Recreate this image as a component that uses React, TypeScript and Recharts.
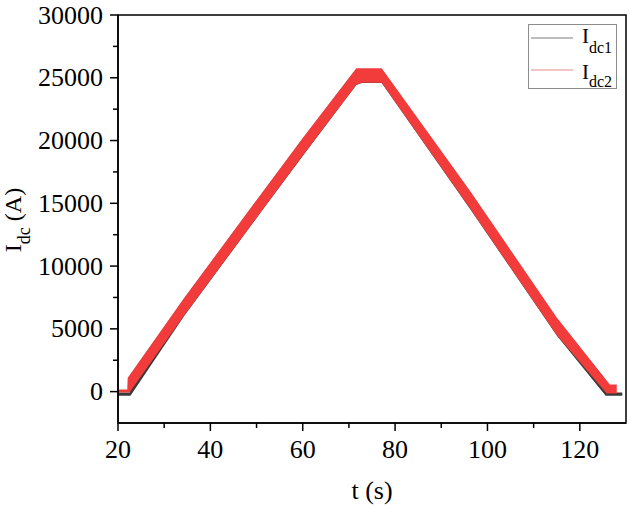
import React from 'react';
import { ComposedChart, Area, XAxis, YAxis, Legend, ReferenceArea } from 'recharts';

// Idc1 (black) envelope
const time1 = [20, 22.6, 22.7, 34.4, 51.0, 60.0, 71.6, 72.8, 77.1, 96.2, 115.0, 125.6, 126.0, 129.2];
const idc1Low = [-330, -330, -330, 6070, 14320, 18770, 24430, 24590, 24590, 14570, 4470, -330, -330, -330];
const idc1High = [-80, -80, 1350, 7450, 15700, 20150, 25700, 25700, 25700, 15950, 5850, 950, -80, -80];

// Idc2 (red) envelope
const time2 = [20, 22.0, 22.1, 22.5, 34.4, 51.0, 60.0, 71.6, 72.8, 77.1, 96.2, 115.0, 125.8, 126.5, 128.0];
const idc2Low = [-80, -80, -80, -80, 6100, 14350, 18800, 24450, 24600, 24600, 14600, 4500, -150, -150, -150];
const idc2High = [160, 160, 1100, 1300, 7500, 15750, 20200, 25750, 25750, 25750, 16000, 5900, 890, 560, 560];

const xTicks = [20, 30, 40, 50, 60, 70, 80, 90, 100, 110, 120];
const xLabelTicks = [20, 40, 60, 80, 100, 120];
const yTicks = [0, 2500, 5000, 7500, 10000, 12500, 15000, 17500, 20000, 22500, 25000, 27500, 30000];
const yLabelTicks = [0, 5000, 10000, 15000, 20000, 25000, 30000];

const FONT = "'Liberation Serif', 'Times New Roman', serif";
const TICK_FS = 26;

const data1 = time1.map((t, i) => ({ t, range: [idc1Low[i], idc1High[i]] }));
const data2 = time2.map((t, i) => ({ t, range: [idc2Low[i], idc2High[i]] }));

const XTick = (props: any) => {
  const { x, y, payload } = props;
  const v = payload.value;
  const major = xLabelTicks.includes(v);
  return (
    <g>
      <line x1={x} x2={x} y1={y} y2={y + (major ? 8 : 5)} stroke="#000" strokeWidth={1.5} />
      {major && (
        <text x={x} y={y + 35} textAnchor="middle" fontFamily={FONT} fontSize={TICK_FS} fill="#000">
          {v}
        </text>
      )}
    </g>
  );
};

const YTick = (props: any) => {
  const { x, y, payload } = props;
  const v = payload.value;
  const major = yLabelTicks.includes(v);
  return (
    <g>
      <line x1={x} x2={x - (major ? 8 : 5)} y1={y} y2={y} stroke="#000" strokeWidth={1.5} />
      {major && (
        <text x={x - 15} y={y + 8.5} textAnchor="end" fontFamily={FONT} fontSize={TICK_FS} fill="#000">
          {v}
        </text>
      )}
    </g>
  );
};

const XLabel = () => (
  <text x={372} y={499} textAnchor="middle" fontFamily={FONT} fontSize={26} fill="#000">
    t (s)
  </text>
);

const YLabel = () => (
  <text
    transform="translate(21,220) rotate(-90)"
    x={0}
    y={0}
    textAnchor="middle"
    fontFamily={FONT}
    fontSize={24}
    fill="#000"
  >
    I
    <tspan fontSize={18} dy={9}>dc</tspan>
    <tspan dy={-9}> (A)</tspan>
  </text>
);

const renderLegend = () => (
  <div
    style={{
      width: 89,
      height: 65,
      boxSizing: 'border-box',
      border: '1px solid #8c8c8c',
      background: '#fff',
      position: 'relative',
    }}
  >
    <svg width={89} height={65} style={{ position: 'absolute', left: -1, top: -1, overflow: 'visible' }}>
      <line x1={3} x2={45} y1={14} y2={14} stroke="#a9a9a9" strokeWidth={1.5} />
      <line x1={3} x2={45} y1={46} y2={46} stroke="#efb0b0" strokeWidth={1.5} />
      <text x={54} y={19} fontFamily={FONT} fontSize={21} fill="#000">
        I<tspan fontSize={16} dy={10}>dc1</tspan>
      </text>
      <text x={54} y={55} fontFamily={FONT} fontSize={21} fill="#000">
        I<tspan fontSize={16} dy={8}>dc2</tspan>
      </text>
    </svg>
  </div>
);

export default function App() {
  return (
    <div style={{ position: 'absolute', left: 0, top: 0, width: 630, height: 509, background: '#fff' }}>
      <ComposedChart width={630} height={509} margin={{ top: 15, right: 4, bottom: 0, left: 0 }}>
        <XAxis
          dataKey="t"
          type="number"
          domain={[20, 130]}
          allowDataOverflow
          ticks={xTicks}
          interval={0}
          tickSize={0}
          tickMargin={0}
          tickLine={false}
          height={86}
          axisLine={{ stroke: '#000', strokeWidth: 1.5 }}
          tick={<XTick />}
          label={<XLabel />}
        />
        <YAxis
          type="number"
          domain={[-2500, 30000]}
          allowDataOverflow
          ticks={yTicks}
          interval={0}
          tickSize={0}
          tickMargin={0}
          tickLine={false}
          width={118}
          axisLine={{ stroke: '#000', strokeWidth: 1.5 }}
          tick={<YTick />}
          label={<YLabel />}
        />
        <Area
          data={data1}
          dataKey="range"
          type="linear"
          stroke="none"
          fill="#3a3a3a"
          fillOpacity={1}
          isAnimationActive={false}
          activeDot={false}
          name="Idc1"
        />
        <Area
          data={data2}
          dataKey="range"
          type="linear"
          stroke="none"
          fill="#f23c3c"
          fillOpacity={1}
          isAnimationActive={false}
          activeDot={false}
          name="Idc2"
        />
        <ReferenceArea
          x1={20}
          x2={130}
          y1={-2500}
          y2={30000}
          fill="none"
          stroke="#000"
          strokeWidth={1.5}
          ifOverflow="visible"
        />
        <Legend
          layout="horizontal"
          verticalAlign="middle"
          align="center"
          content={renderLegend}
          wrapperStyle={{ position: 'absolute', left: 528, top: 24, width: 89, height: 65 }}
        />
      </ComposedChart>
    </div>
  );
}
